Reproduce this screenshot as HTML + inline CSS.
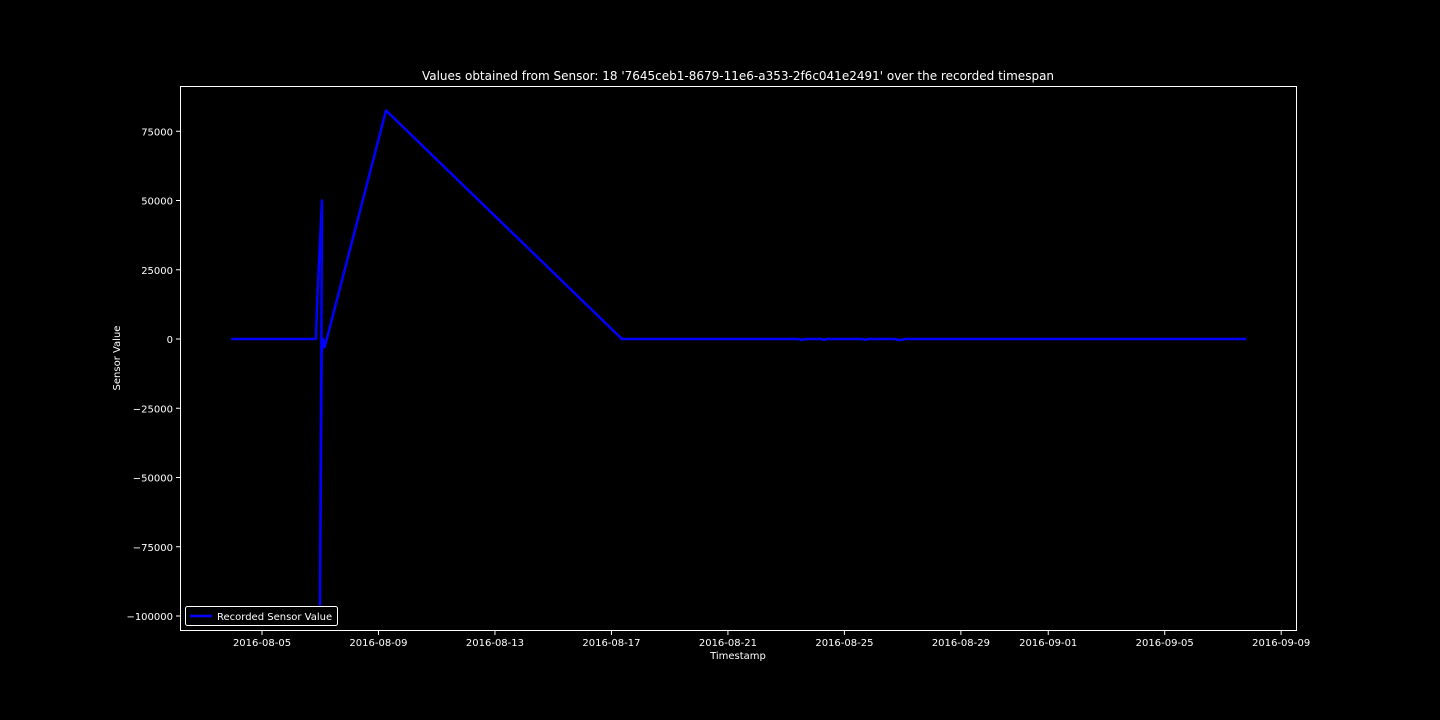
<!DOCTYPE html>
<html><head><meta charset="utf-8"><style>
html,body{margin:0;padding:0;background:#000;}
svg{display:block;font-family:"DejaVu Sans","Liberation Sans",sans-serif;}
</style></head><body>
<svg id="chart" width="1440" height="720">
<rect width="1440" height="720" fill="#000"/>
<text x="738" y="80" fill="#fff" font-size="12" text-anchor="middle">Values obtained from Sensor: 18 '7645ceb1-8679-11e6-a353-2f6c041e2491' over the recorded timespan</text>
<text x="738" y="659" fill="#fff" font-size="10" text-anchor="middle">Timestamp</text>
<text x="120" y="358" fill="#fff" font-size="10" text-anchor="middle" transform="rotate(-90 120 358)">Sensor Value</text>
<g id="ticks"></g>
<polyline id="line" fill="none" stroke="#0000ff" stroke-width="2.5" stroke-linejoin="round"/>
<rect x="180.5" y="86.5" width="1116" height="544" fill="none" stroke="#fff" stroke-width="1"/>
<g>
<rect x="185.5" y="606.5" width="152" height="19" rx="2" fill="#000" stroke="#fff" stroke-width="1"/>
<line x1="190" y1="616" x2="212" y2="616" stroke="#0000ff" stroke-width="2.5"/>
<text x="217" y="620" fill="#fff" font-size="10">Recorded Sensor Value</text>
</g>
</svg>
<script>
const xDays = [-1.06, 1.85, 1.9, 2.06, 2.04, 1.99, 2.05, 2.1, 2.15, 4.26, 12.36, 18.4, 18.5, 18.7, 19.2, 19.3, 19.4, 20.6, 20.7, 20.8, 21.7, 21.9, 22.1, 33.8];
const yValues = [0, 0, 15000, 50000, 0, -96000, -5000, 0, -3000, 82500, 0, 0, -300, 0, 0, -300, 0, 0, -300, 0, 0, -400, 0, 0];
const xTickDays = [0, 4, 8, 12, 16, 20, 24, 27, 31, 35];
const xTickLabels = ["2016-08-05","2016-08-09","2016-08-13","2016-08-17","2016-08-21","2016-08-25","2016-08-29","2016-09-01","2016-09-05","2016-09-09"];
const yTicks = [75000, 50000, 25000, 0, -25000, -50000, -75000, -100000];
const yTickLabels = ["75000","50000","25000","0","\u221225000","\u221250000","\u221275000","\u2212100000"];
function xs(d){return 262 + d*29.12;}
function ys(v){return 339 - v*(277/100000);}
const ns="http://www.w3.org/2000/svg";
const g=document.getElementById('ticks');
xTickDays.forEach((d,i)=>{
  const l=document.createElementNS(ns,'line');
  l.setAttribute('x1',xs(d));l.setAttribute('x2',xs(d));l.setAttribute('y1',631);l.setAttribute('y2',635);l.setAttribute('stroke','#fff');
  
  
  g.appendChild(l);
  const t=document.createElementNS(ns,'text');
  t.setAttribute('x',xs(d));t.setAttribute('y',646);t.setAttribute('fill','#fff');t.setAttribute('font-size','10');t.setAttribute('text-anchor','middle');
  t.textContent=xTickLabels[i];
  
  
  g.appendChild(t);
});
yTicks.forEach((v,i)=>{
  const l=document.createElementNS(ns,'line');
  l.setAttribute('x1',176);l.setAttribute('x2',180);l.setAttribute('y1',ys(v));l.setAttribute('y2',ys(v));l.setAttribute('stroke','#fff');
  
  
  g.appendChild(l);
  const t=document.createElementNS(ns,'text');
  t.setAttribute('x',173);t.setAttribute('y',ys(v)+4);t.setAttribute('fill','#fff');t.setAttribute('font-size','10');t.setAttribute('text-anchor','end');
  t.textContent=yTickLabels[i];
  
  
  g.appendChild(t);
});
document.getElementById('line').setAttribute('points', xDays.map((d,i)=>xs(d)+','+ys(yValues[i])).join(' '));
</script>
</body></html>
